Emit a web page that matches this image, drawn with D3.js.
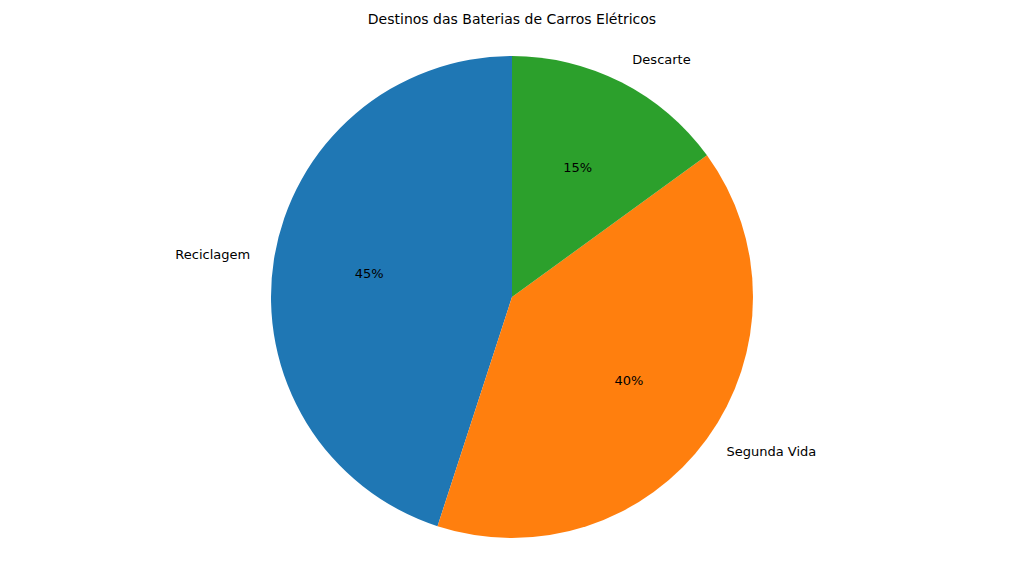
<!DOCTYPE html>
<html>
<head>
<meta charset="utf-8">
<script src="https://cdn.jsdelivr.net/npm/d3@7"></script>
<style>
  body { margin: 0; background: #fff; }
  text { font-family: "DejaVu Sans", sans-serif; font-size: 13px; fill: #000; }
</style>
</head>
<body>
<svg id="chart" width="1024" height="576"></svg>
<script>
const labels = ["Reciclagem", "Segunda Vida", "Descarte"];
const values = [45, 40, 15];
const colors = ["#1f77b4", "#ff7f0e", "#2ca02c"];

const svg = d3.select("#chart");
const cx = 512, cy = 297, r = 241;

svg.append("text")
  .attr("x", cx).attr("y", 24)
  .attr("text-anchor", "middle")
  .style("font-size", "14px")
  .text("Destinos das Baterias de Carros Elétricos");

// matplotlib style: start at top, counterclockwise
const pie = d3.pie().sort(null).startAngle(0).endAngle(-2 * Math.PI);
const arcs = pie(values);
const arc = d3.arc().innerRadius(0).outerRadius(r);

const g = svg.append("g").attr("transform", `translate(${cx},${cy})`);

g.selectAll("path").data(arcs).join("path")
  .attr("d", arc)
  .attr("fill", (d, i) => colors[i]);

function pos(d, k) {
  const a = (d.startAngle + d.endAngle) / 2;
  return [k * r * Math.sin(a), -k * r * Math.cos(a)];
}

g.selectAll("text.pct").data(arcs).join("text")
  .attr("class", "pct")
  .attr("x", d => pos(d, 0.6)[0])
  .attr("y", d => pos(d, 0.6)[1])
  .attr("text-anchor", "middle")
  .attr("dominant-baseline", "middle")
  .text(d => d.data + "%");

g.selectAll("text.lbl").data(arcs).join("text")
  .attr("class", "lbl")
  .attr("x", d => pos(d, 1.1)[0])
  .attr("y", d => pos(d, 1.1)[1])
  .attr("text-anchor", d => pos(d, 1.1)[0] < 0 ? "end" : "start")
  .attr("dominant-baseline", "middle")
  .text((d, i) => labels[i]);
</script>
</body>
</html>
